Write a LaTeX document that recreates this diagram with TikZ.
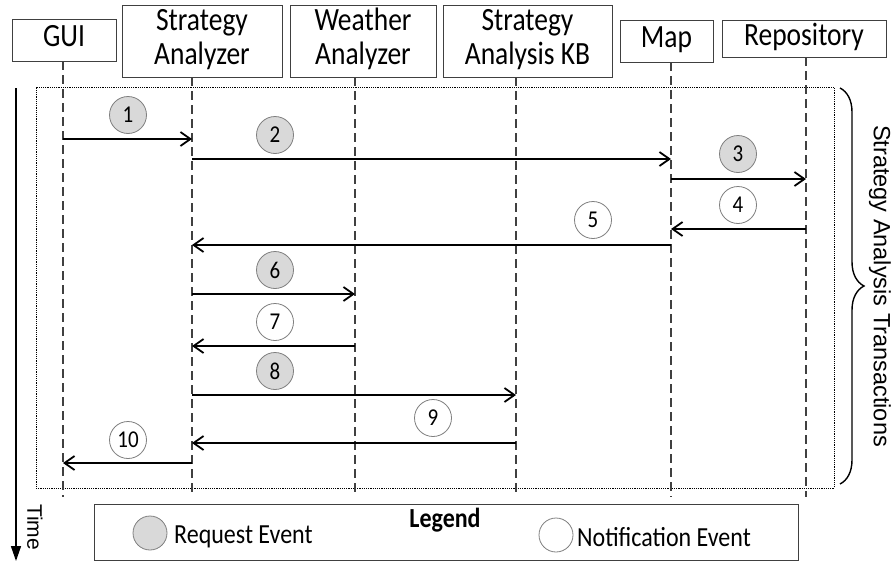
\documentclass[tikz,border=0pt]{standalone}
\usepackage{fontspec}
\setmainfont{Carlito}
\newfontfamily\arialf{Liberation Sans}
\usetikzlibrary{arrows.meta,decorations.pathreplacing}
\definecolor{boxc}{HTML}{404040}
\definecolor{circc}{HTML}{7F7F7F}
\definecolor{reqc}{HTML}{D9D9D9}
\newcommand\tallhdr[1]{\scalebox{1}[1.18]{\begin{tabular}{@{}c@{}}#1\end{tabular}}}
\newcommand\tallt[1]{\scalebox{1}[1.15]{#1}}
\tikzset{
  hdr/.style={draw=boxc, line width=0.9pt, fill=white, align=center, inner sep=0pt, font=\fontsize{27.5}{29}\selectfont},
  life/.style={draw=boxc, line width=1.1pt, dash pattern=on 9pt off 5pt},
  msg/.style={draw=black, line width=1.8pt, -{Straight Barb[length=10pt, width=14pt]}},
  ev/.style={circle, draw=circc, line width=0.8pt, minimum size=37pt, inner sep=0pt, font=\fontsize{21}{21}\selectfont},
  evreq/.style={ev, fill=reqc},
  evnot/.style={ev, fill=white},
  frame/.style={draw=black, line width=0.8pt, dash pattern=on 1.2pt off 1pt, inner sep=0pt},
  sidelbl/.style={rotate=-90, inner sep=0pt},
  legtxt/.style={anchor=west, inner sep=0pt, font=\fontsize{24}{24}\selectfont}
}
\begin{document}
\begin{tikzpicture}[x=1pt,y=-1pt]
\useasboundingbox (0,0) rectangle (891,562);
% dotted frame
\node[frame, minimum width=798pt, minimum height=401pt] (fr) at (435,287.5) {};
% headers
\node[hdr, minimum width=104pt, minimum height=42pt] (gui) at (64,40) {\tallhdr{GUI}};
\node[hdr, minimum width=160pt, minimum height=72pt] (sa) at (202,41) {\tallhdr{Strategy\\Analyzer}};
\node[hdr, minimum width=146pt, minimum height=72pt] (wa) at (363,41) {\tallhdr{Weather\\Analyzer}};
\node[hdr, minimum width=169pt, minimum height=72pt] (kb) at (527.5,41) {\tallhdr{Strategy\\Analysis KB}};
\node[hdr, minimum width=93pt, minimum height=42pt] (map) at (666.5,41) {\tallhdr{Map}};
\node[hdr, minimum width=164pt, minimum height=37pt] (repo) at (804,38.5) {\tallhdr{Repository}};
% lifeline ends
\coordinate (guiL) at (63,497);
\coordinate (saL) at (192,497);
\coordinate (waL) at (355,497);
\coordinate (kbL) at (516,497);
\coordinate (mapL) at (671,497);
\coordinate (repoL) at (806,497);
\foreach \n in {gui,sa,wa,kb,map,repo}
  \draw[life] (\n.south -| \n L) -- (\n L);
% rows
\coordinate (r1) at (0,139);
\coordinate (r2) at (0,159);
\coordinate (r3) at (0,179);
\coordinate (r4) at (0,229);
\coordinate (r5) at (0,245);
\coordinate (r6) at (0,294);
\coordinate (r7) at (0,346);
\coordinate (r8) at (0,395);
\coordinate (r9) at (0,443);
\coordinate (r10) at (0,463);
% messages
\draw[msg] (guiL |- r1) -- (saL |- r1);
\draw[msg] (saL |- r2) -- (mapL |- r2);
\draw[msg] (mapL |- r3) -- (repoL |- r3);
\draw[msg] (repoL |- r4) -- (mapL |- r4);
\draw[msg] (mapL |- r5) -- (saL |- r5);
\draw[msg] (saL |- r6) -- (waL |- r6);
\draw[msg] (waL |- r7) -- (saL |- r7);
\draw[msg] (saL |- r8) -- (kbL |- r8);
\draw[msg] (kbL |- r9) -- (saL |- r9);
\draw[msg] (saL |- r10) -- (guiL |- r10);
% event circles
\node[evreq] (e1) at (128,115) {\tallt{1}};
\node[evreq] (e2) at (275,135) {\tallt{2}};
\node[evreq] (e3) at (738,154) {\tallt{3}};
\node[evnot] (e4) at (738,205) {\tallt{4}};
\node[evnot] (e5) at (593,220) {\tallt{5}};
\node[evreq] (e6) at (275,270) {\tallt{6}};
\node[evnot] (e7) at (275,322) {\tallt{7}};
\node[evreq] (e8) at (275,371) {\tallt{8}};
\node[evnot] (e9) at (433,418) {\tallt{9}};
\node[evnot] (e10) at (128,440) {\tallt{10}};
% time axis
\coordinate (tT) at (16,88);
\coordinate (tB) at (16,561);
\draw[line width=1.5pt, -{Triangle[length=15pt,width=10pt]}] (tT) -- (tB);
\node[sidelbl, font=\arialf\fontsize{21}{21}\selectfont] (time) at (35,527) {Time};
% brace
\coordinate (bT) at (840,88);
\coordinate (bB) at (840,484);
\draw[line width=1.4pt, decorate, decoration={brace, amplitude=24pt, aspect=0.5}] (bT) -- (bB);
\node[sidelbl, font=\arialf\fontsize{23.5}{24}\selectfont] (lbl) at (880,286) {Strategy Analysis Transactions};
% legend
\node[draw=boxc, line width=0.9pt, minimum width=704pt, minimum height=56pt, inner sep=0pt] (leg) at (446,532) {};
\node[anchor=base, inner sep=0pt, font=\bfseries\fontsize{24}{24}\selectfont] (legt) at (445,527) {\tallt{Legend}};
\node[evreq, minimum size=34pt] (lreq) at (150,533) {};
\node[legtxt] (lreqt) at (174,537) {\tallt{Request Event}};
\node[evnot, minimum size=34pt] (lnot) at (556,535) {};
\node[legtxt] (lnott) at (577,537) {\tallt{Notification Event}};
\end{tikzpicture}
\end{document}
